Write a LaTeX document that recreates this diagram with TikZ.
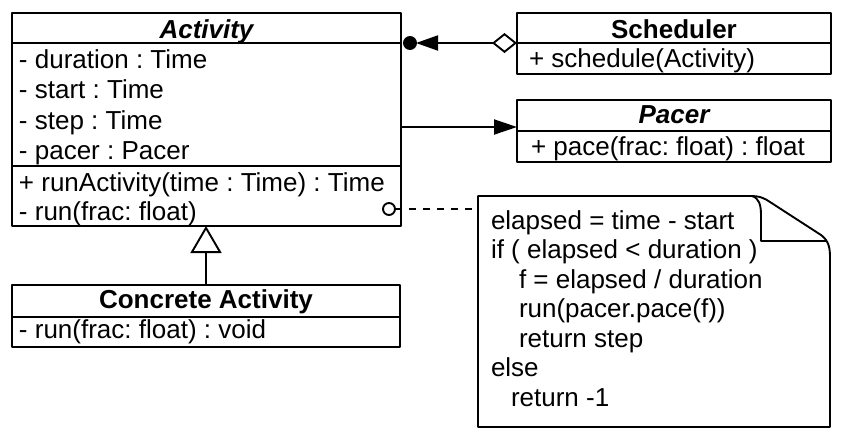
\documentclass[tikz,border=0pt]{standalone}
\usepackage{fontspec}
\setmainfont{Liberation Sans}
\usetikzlibrary{arrows.meta}
\frenchspacing
\begin{document}
\begin{tikzpicture}[x=1pt,y=-1pt,line width=1.9pt,line join=round,
  box/.style={draw,rectangle,inner sep=0pt,outer sep=0pt,anchor=north west},
  txt/.style={inner sep=0pt,outer sep=0pt,anchor=base west,font=\fontsize{26}{30}\selectfont},
  ttl/.style={inner sep=0pt,outer sep=0pt,anchor=base,font=\fontsize{26}{30}\selectfont\bfseries},
  ittl/.style={ttl,font=\fontsize{26}{30}\selectfont\bfseries\itshape}]
\useasboundingbox (0,0) rectangle (857,432);

% Activity
\node[box,minimum width=389pt,minimum height=213pt] (act) at (12,13) {};
\draw (act.west |- 0,43) -- (act.east |- 0,43);
\draw (act.west |- 0,166) -- (act.east |- 0,166);
\node[ittl] (actT) at (206.5,38) {Activity};
\node[txt] (a1) at (19,68) {- duration : Time};
\node[txt] (a2) at (19,98.5) {- start : Time};
\node[txt] (a3) at (19,129) {- step : Time};
\node[txt] (a4) at (19,159) {- pacer : Pacer};
\node[txt] (o1) at (19,191) {+ runActivity(time : Time) : Time};
\node[txt] (o2) at (19,220) {- run(frac: float)};

% Scheduler
\node[box,minimum width=314pt,minimum height=61pt] (sch) at (517,13) {};
\draw (sch.west |- 0,43) -- (sch.east |- 0,43);
\node[ttl] (schT) at (674,38) {Scheduler};
\node[txt] (s1) at (529,67) {+ schedule(Activity)};

% Pacer
\node[box,minimum width=314pt,minimum height=62pt] (pac) at (517,100) {};
\draw (pac.west |- 0,131) -- (pac.east |- 0,131);
\node[ittl] (pacT) at (674,123) {Pacer};
\node[txt] (p1) at (531,155) {+ pace(frac: float) : float};

% Concrete Activity
\node[box,minimum width=388pt,minimum height=62pt] (conc) at (12,285) {};
\draw (conc.west |- 0,317) -- (conc.east |- 0,317);
\node[ttl] (concT) at (206,308) {Concrete Activity};
\node[txt] (c1) at (19,338) {- run(frac: float) : void};

% Note
\node[inner sep=0pt,outer sep=0pt,minimum width=352pt,minimum height=231pt,anchor=north west] (note) at (478,196) {};
\draw (478,196) -- (750,196) .. controls (760,196) and (764,198) .. (770,202)
  -- (821,235) .. controls (829,241) and (830,248) .. (830,258) -- (830,427) -- (478,427) -- cycle;
\draw (752,196) .. controls (759,198) and (761,205) .. (761,215) -- (761,241) -- (826,241);
\node[txt] (n1) at (491,229) {elapsed = time - start};
\node[txt] (n2) at (491,258.5) {if ( elapsed < duration )};
\node[txt] (n3) at (519,288) {f = elapsed / duration};
\node[txt] (n4) at (519,317.5) {run(pacer.pace(f))};
\node[txt] (n5) at (519,347) {return step};
\node[txt] (n6) at (491,376.5) {else};
\node[txt] (n7) at (511,406) {return -1};

% aggregation Scheduler -> Activity
\node[circle,fill,draw,inner sep=0pt,outer sep=0pt,minimum size=12pt] (dot) at (410,43) {};
\draw[{Diamond[open,length=25pt,width=20pt]}-{Triangle[length=22pt,width=15pt]}] (sch.west |- dot) -- (dot.east);

% association Activity -> Pacer
\draw[-{Triangle[length=23pt,width=15pt]}] (act.east |- 0,127) -- (pac.west |- 0,127);

% generalization
\draw[-{Triangle[open,length=27pt,width=31pt]}] (conc.north) -- (conc.north |- act.south);

% note link
\node[circle,draw,inner sep=0pt,outer sep=0pt,minimum size=12pt] (lol) at (389,209) {};
\draw[dash pattern=on 7pt off 7pt] (lol.east) -- (note.west |- lol);
\end{tikzpicture}
\end{document}
